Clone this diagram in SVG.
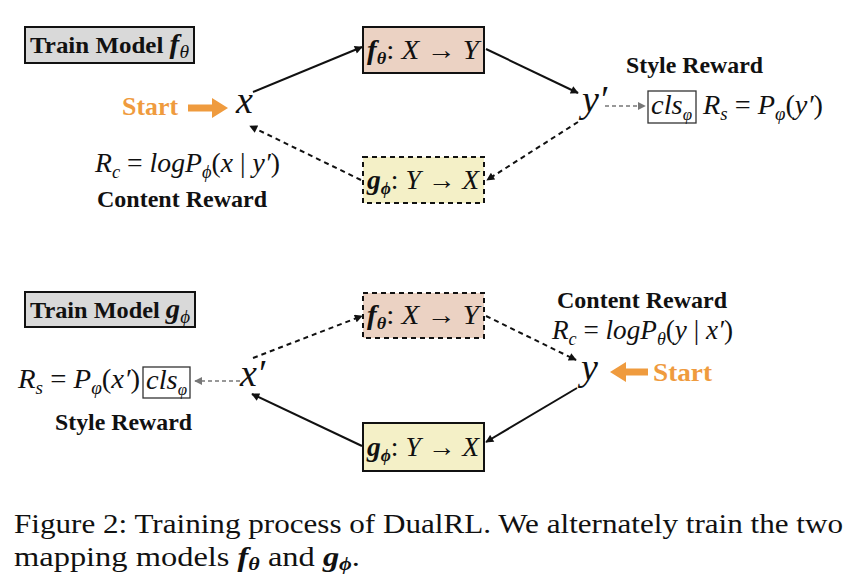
<svg xmlns="http://www.w3.org/2000/svg" width="861" height="584" viewBox="0 0 861 584">
<style>
.lbl{font-family:"Liberation Serif","Times New Roman",serif;font-weight:bold;font-size:23px;fill:#111}
.m{font-family:"Liberation Serif","Times New Roman",serif;font-style:italic;font-size:27px;fill:#111}
.v{font-family:"Liberation Serif","Times New Roman",serif;font-style:italic;font-size:38px;fill:#111}
.cap{font-family:"Liberation Serif","Times New Roman",serif;font-size:28px;fill:#111}
.start{font-family:"Liberation Serif","Times New Roman",serif;font-weight:bold;font-size:25px;fill:#ef9b3e}
.fbox{fill:#ebd2c3;stroke:#111;stroke-width:2}
.gbox{fill:#f4f0c7;stroke:#111;stroke-width:2}
.tbox{fill:#d9d9d9;stroke:#111;stroke-width:2}
.dash{stroke-dasharray:5 4}
.solid{stroke:#111;stroke-width:2;fill:none}
.dl{stroke:#111;stroke-width:2;fill:none;stroke-dasharray:5 4}
.gl{stroke:#777;stroke-width:1.5;fill:none;stroke-dasharray:4 3}
.cls{fill:none;stroke:#333;stroke-width:1.3}
</style>
<defs>
<marker id="ah" viewBox="0 0 10 10" refX="9" refY="5" markerWidth="9" markerHeight="8" markerUnits="userSpaceOnUse" orient="auto"><path d="M0,0 L10,5 L0,10 z" fill="#111"/></marker>
<marker id="ahg" viewBox="0 0 10 10" refX="9" refY="5" markerWidth="8" markerHeight="8" markerUnits="userSpaceOnUse" orient="auto"><path d="M0,0 L10,5 L0,10 z" fill="#777"/></marker>
</defs>
<rect width="861" height="584" fill="#ffffff"/>

<!-- Top panel -->
<g id="train-f">
<rect class="tbox" x="25" y="27" width="169" height="36"/>
<text class="lbl" x="30" y="53" textLength="159" lengthAdjust="spacingAndGlyphs">Train Model <tspan font-style="italic" font-size="27">f</tspan><tspan font-style="italic" font-weight="normal" font-size="18" dy="5">θ</tspan></text>
</g>
<g id="f-top">
<rect class="fbox" x="363" y="27" width="121" height="46"/>
<text class="m" x="367" y="59" textLength="112" lengthAdjust="spacingAndGlyphs"><tspan font-weight="bold">f</tspan><tspan font-weight="bold" font-size="17" dy="5">θ</tspan><tspan font-style="normal" dy="-5">:</tspan> X <tspan font-style="normal">→</tspan> Y</text>
</g>
<g id="g-top">
<rect class="gbox dash" x="363" y="157" width="121" height="46"/>
<text class="m" x="367" y="189" textLength="112" lengthAdjust="spacingAndGlyphs"><tspan font-weight="bold">g</tspan><tspan font-weight="bold" font-size="17" dy="5">ϕ</tspan><tspan font-style="normal" dy="-5">:</tspan> Y <tspan font-style="normal">→</tspan> X</text>
</g>
<g id="x-top">
<text class="v" x="236" y="113">x</text>
</g>
<g id="start-top">
<text class="start" x="122" y="115" textLength="56" lengthAdjust="spacingAndGlyphs">Start</text>
<polygon points="188,104.5 212,104.5 212,98 228,108 212,118 212,111.5 188,111.5" fill="#ef9b3e"/>
</g>
<g id="yp-top">
<text class="v" x="582" y="112">y′</text>
</g>
<g id="content-top">
<text class="m" x="95" y="172" textLength="185" lengthAdjust="spacingAndGlyphs">R<tspan font-size="18" dy="6">c</tspan><tspan font-style="normal" dy="-6"> = </tspan>logP<tspan font-size="18" dy="6">ϕ</tspan><tspan dy="-6" font-style="normal">(</tspan>x<tspan font-style="normal"> | </tspan>y′<tspan font-style="normal">)</tspan></text>
<text class="lbl" x="97" y="207" textLength="170" lengthAdjust="spacingAndGlyphs">Content Reward</text>
</g>
<g id="style-top">
<text class="lbl" x="626" y="73" textLength="137" lengthAdjust="spacingAndGlyphs">Style Reward</text>
<rect class="cls" x="648" y="91" width="48" height="32"/>
<text class="m" x="651" y="114" textLength="41" lengthAdjust="spacingAndGlyphs">cls<tspan font-size="16" dy="6">φ</tspan></text>
<text class="m" x="703" y="114" textLength="120" lengthAdjust="spacingAndGlyphs">R<tspan font-size="18" dy="6">s</tspan><tspan font-style="normal" dy="-6"> = </tspan>P<tspan font-size="18" dy="6">φ</tspan><tspan dy="-6" font-style="normal">(</tspan>y′<tspan font-style="normal">)</tspan></text>
</g>

<!-- Bottom panel -->
<g id="train-g">
<rect class="tbox" x="25" y="292" width="170" height="35"/>
<text class="lbl" x="30" y="318" textLength="160" lengthAdjust="spacingAndGlyphs">Train Model <tspan font-style="italic" font-size="27">g</tspan><tspan font-style="italic" font-weight="normal" font-size="18" dy="5">ϕ</tspan></text>
</g>
<g id="f-bot">
<rect class="fbox dash" x="363" y="293" width="121" height="45"/>
<text class="m" x="367" y="324" textLength="112" lengthAdjust="spacingAndGlyphs"><tspan font-weight="bold">f</tspan><tspan font-weight="bold" font-size="17" dy="5">θ</tspan><tspan font-style="normal" dy="-5">:</tspan> X <tspan font-style="normal">→</tspan> Y</text>
</g>
<g id="g-bot">
<rect class="gbox" x="363" y="423" width="121" height="48"/>
<text class="m" x="367" y="456" textLength="112" lengthAdjust="spacingAndGlyphs"><tspan font-weight="bold">g</tspan><tspan font-weight="bold" font-size="17" dy="5">ϕ</tspan><tspan font-style="normal" dy="-5">:</tspan> Y <tspan font-style="normal">→</tspan> X</text>
</g>
<g id="xp-bot">
<text class="v" x="240" y="386">x′</text>
</g>
<g id="y-bot">
<text class="v" x="581" y="380">y</text>
</g>
<g id="start-bot">
<polygon points="648,368.5 626,368.5 626,362 610,372 626,382 626,375.5 648,375.5" fill="#ef9b3e"/>
<text class="start" x="653" y="381" textLength="59" lengthAdjust="spacingAndGlyphs">Start</text>
</g>
<g id="content-bot">
<text class="lbl" x="557" y="308" textLength="170" lengthAdjust="spacingAndGlyphs">Content Reward</text>
<text class="m" x="552" y="339" textLength="181" lengthAdjust="spacingAndGlyphs">R<tspan font-size="18" dy="6">c</tspan><tspan font-style="normal" dy="-6"> = </tspan>logP<tspan font-size="18" dy="6">θ</tspan><tspan dy="-6" font-style="normal">(</tspan>y<tspan font-style="normal"> | </tspan>x′<tspan font-style="normal">)</tspan></text>
</g>
<g id="style-bot">
<text class="m" x="18" y="388" textLength="122" lengthAdjust="spacingAndGlyphs">R<tspan font-size="18" dy="6">s</tspan><tspan font-style="normal" dy="-6"> = </tspan>P<tspan font-size="18" dy="6">φ</tspan><tspan dy="-6" font-style="normal">(</tspan>x′<tspan font-style="normal">)</tspan></text>
<rect class="cls" x="143" y="367" width="47" height="31"/>
<text class="m" x="146" y="389" textLength="41" lengthAdjust="spacingAndGlyphs">cls<tspan font-size="16" dy="6">φ</tspan></text>
<text class="lbl" x="55" y="430" textLength="137" lengthAdjust="spacingAndGlyphs">Style Reward</text>
</g>

<g id="connectors">
<line class="solid" x1="253" y1="92" x2="362" y2="47" marker-end="url(#ah)"/>
<line class="solid" x1="486" y1="49" x2="578" y2="93" marker-end="url(#ah)"/>
<line class="dl" x1="578" y1="122" x2="487" y2="180" marker-end="url(#ah)"/>
<line class="dl" x1="361" y1="180" x2="250" y2="126" marker-end="url(#ah)"/>
<line class="gl" x1="605" y1="106" x2="645" y2="106" marker-end="url(#ahg)"/>

<line class="dl" x1="253" y1="358" x2="362" y2="316" marker-end="url(#ah)"/>
<line class="dl" x1="486" y1="316" x2="576" y2="360" marker-end="url(#ah)"/>
<line class="solid" x1="577" y1="388" x2="486" y2="442" marker-end="url(#ah)"/>
<line class="solid" x1="362" y1="446" x2="252" y2="394" marker-end="url(#ah)"/>
<line class="gl" x1="240" y1="381" x2="195" y2="381" marker-end="url(#ahg)"/>
</g>

<g id="caption">
<text class="cap" x="14" y="533" textLength="829" lengthAdjust="spacingAndGlyphs">Figure 2: Training process of DualRL. We alternately train the two</text>
<text class="cap" x="14" y="566" textLength="346" lengthAdjust="spacingAndGlyphs">mapping models <tspan font-weight="bold" font-style="italic">f</tspan><tspan font-weight="bold" font-style="italic" font-size="19" dy="4">θ</tspan><tspan dy="-4"> and </tspan><tspan font-weight="bold" font-style="italic">g</tspan><tspan font-weight="bold" font-style="italic" font-size="19" dy="4">ϕ</tspan><tspan dy="-4">.</tspan></text>
</g>
</svg>
